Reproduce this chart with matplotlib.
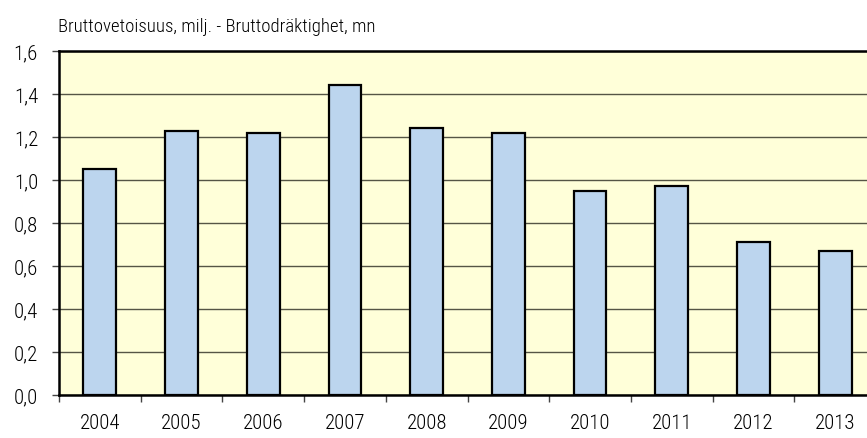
import matplotlib
matplotlib.use("Agg")
import matplotlib.pyplot as plt
from matplotlib.ticker import FixedLocator

years = ["2004", "2005", "2006", "2007", "2008", "2009", "2010", "2011", "2012", "2013"]
tonnage = [1.05, 1.23, 1.22, 1.44, 1.24, 1.22, 0.95, 0.97, 0.71, 0.67]
yticks = [0.0, 0.2, 0.4, 0.6, 0.8, 1.0, 1.2, 1.4, 1.6]

plt.rcParams['font.family'] = ['Roboto Condensed', 'DejaVu Sans']
plt.rcParams['font.weight'] = 'light'

fig = plt.figure(figsize=(8.67, 4.39), dpi=100)
ax = fig.add_axes([0.068, 0.098, 0.9425, 0.7835])
ax.set_facecolor("#ffffd9")

x = list(range(len(years)))
ax.bar(x, tonnage, width=0.4, color="#bcd5ee", edgecolor="black", linewidth=1.6, zorder=3)

ax.set_xlim(-0.5, len(years) - 0.5)
ax.set_ylim(0, 1.6)
ax.set_yticks(yticks)
ax.set_yticklabels([f"{v:.1f}".replace(".", ",") for v in yticks], fontsize=15)
ax.yaxis.grid(True, color="#555545", linewidth=1.0, zorder=1)

ax.set_xticks(x)
ax.set_xticklabels(years, fontsize=15)
ax.tick_params(axis="x", which="major", length=0, pad=13)
ax.xaxis.set_minor_locator(FixedLocator([i - 0.5 for i in range(len(years) + 1)]))
ax.tick_params(axis="x", which="minor", length=5, width=1, color="#444444")
ax.tick_params(axis="y", length=5, width=1, color="#444444", pad=10)

for s in ["left", "bottom", "top"]:
    ax.spines[s].set_linewidth(1.8)
ax.spines["right"].set_visible(False)

fig.text(0.067, 0.927, "Bruttovetoisuus, milj. - Bruttodräktighet, mn", fontsize=13.5, ha="left", va="baseline")

fig.savefig("out.png", dpi=100)
